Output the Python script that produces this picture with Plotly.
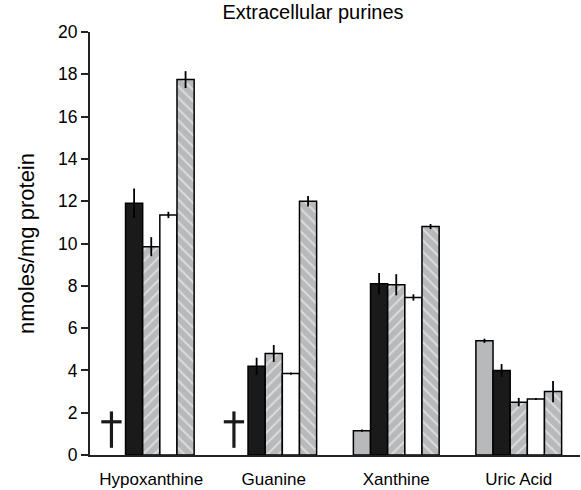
import plotly.graph_objects as go

categories = ["Hypoxanthine", "Guanine", "Xanthine", "Uric Acid"]
gray_vals = [None, None, 1.15, 5.4]
gray_err = [0, 0, 0.05, 0.1]
black_vals = [11.9, 4.2, 8.1, 4.0]
black_err = [0.7, 0.4, 0.5, 0.3]
hatch1_vals = [9.85, 4.8, 8.05, 2.5]
hatch1_err = [0.45, 0.4, 0.5, 0.2]
white_vals = [11.35, 3.85, 7.45, 2.65]
white_err = [0.15, 0.05, 0.15, 0.05]
hatch2_vals = [17.75, 12.0, 10.8, 3.0]
hatch2_err = [0.4, 0.25, 0.12, 0.5]
dagger_cats = [0, 1]  # indices where gray series not detected
dagger_y = 1.2
y_ticks = [0, 2, 4, 6, 8, 10, 12, 14, 16, 18, 20]

GRAY = "#b8b9bb"
FONT = "Liberation Sans, Arial, Helvetica, sans-serif"
xs = list(range(len(categories)))

def err(vals):
    return dict(type="data", array=vals, visible=True, color="black",
                thickness=1.8, width=0)

fig = go.Figure()
line = dict(color="black", width=1.5)
fig.add_bar(x=xs, y=gray_vals, error_y=err(gray_err),
            marker=dict(color=GRAY, line=line))
fig.add_bar(x=xs, y=black_vals, error_y=err(black_err),
            marker=dict(color="#1a1a1a", line=line))
fig.add_bar(x=xs, y=hatch1_vals, error_y=err(hatch1_err),
            marker=dict(color=GRAY, line=line,
                        pattern=dict(shape="/", fgcolor="white", bgcolor=GRAY,
                                     size=8, solidity=0.25)))
fig.add_bar(x=xs, y=white_vals, error_y=err(white_err),
            marker=dict(color="white", line=line))
fig.add_bar(x=xs, y=hatch2_vals, error_y=err(hatch2_err),
            marker=dict(color=GRAY, line=line,
                        pattern=dict(shape="\\", fgcolor="white", bgcolor=GRAY,
                                     size=8, solidity=0.25)))

# dagger markers for non-detected gray series (position of series 0 in group)
bargap = 0.3
nser = 5
bw = (1 - bargap) / nser
off0 = -(1 - bargap) / 2 + bw / 2 - 0.045
dx = [i + off0 for i in dagger_cats]
fig.add_scatter(x=dx, y=[dagger_y] * len(dx), mode="markers",
                marker=dict(symbol="line-ns", size=26,
                            line=dict(color="#1a1a1a", width=3.2)),
                hoverinfo="skip")
fig.add_scatter(x=dx, y=[dagger_y + 0.37] * len(dx), mode="markers",
                marker=dict(symbol="line-ew", size=14.5,
                            line=dict(color="#1a1a1a", width=3.2)),
                hoverinfo="skip")

fig.update_layout(
    width=581, height=490,
    margin=dict(l=90, r=1, t=32, b=33),
    barmode="group", bargap=bargap, bargroupgap=0,
    showlegend=False,
    plot_bgcolor="white", paper_bgcolor="white",
    font=dict(family=FONT, color="black", size=17),
    title=dict(text="Extracellular purines", x=313 / 581, xref="container",
               xanchor="center", y=1 - 12 / 490, yref="container",
               yanchor="middle", font=dict(size=20, family=FONT, color="black")),
)
fig.update_xaxes(range=[-0.5, 3.5], tickvals=xs, ticktext=categories,
                 showline=True, linecolor="#222", linewidth=2,
                 ticks="", showgrid=False, zeroline=False,
                 ticklabelstandoff=8,
                 tickfont=dict(size=17))
fig.update_yaxes(range=[0, 20], tickvals=y_ticks, showline=True,
                 linecolor="#222", linewidth=2, ticks="outside", ticklen=7,
                 tickwidth=2, tickcolor="#222", showgrid=False, zeroline=False,
                 tickfont=dict(size=17.5),
                 title=dict(text="nmoles/mg protein", font=dict(size=22),
                            standoff=17))

fig.write_html("out.html")
